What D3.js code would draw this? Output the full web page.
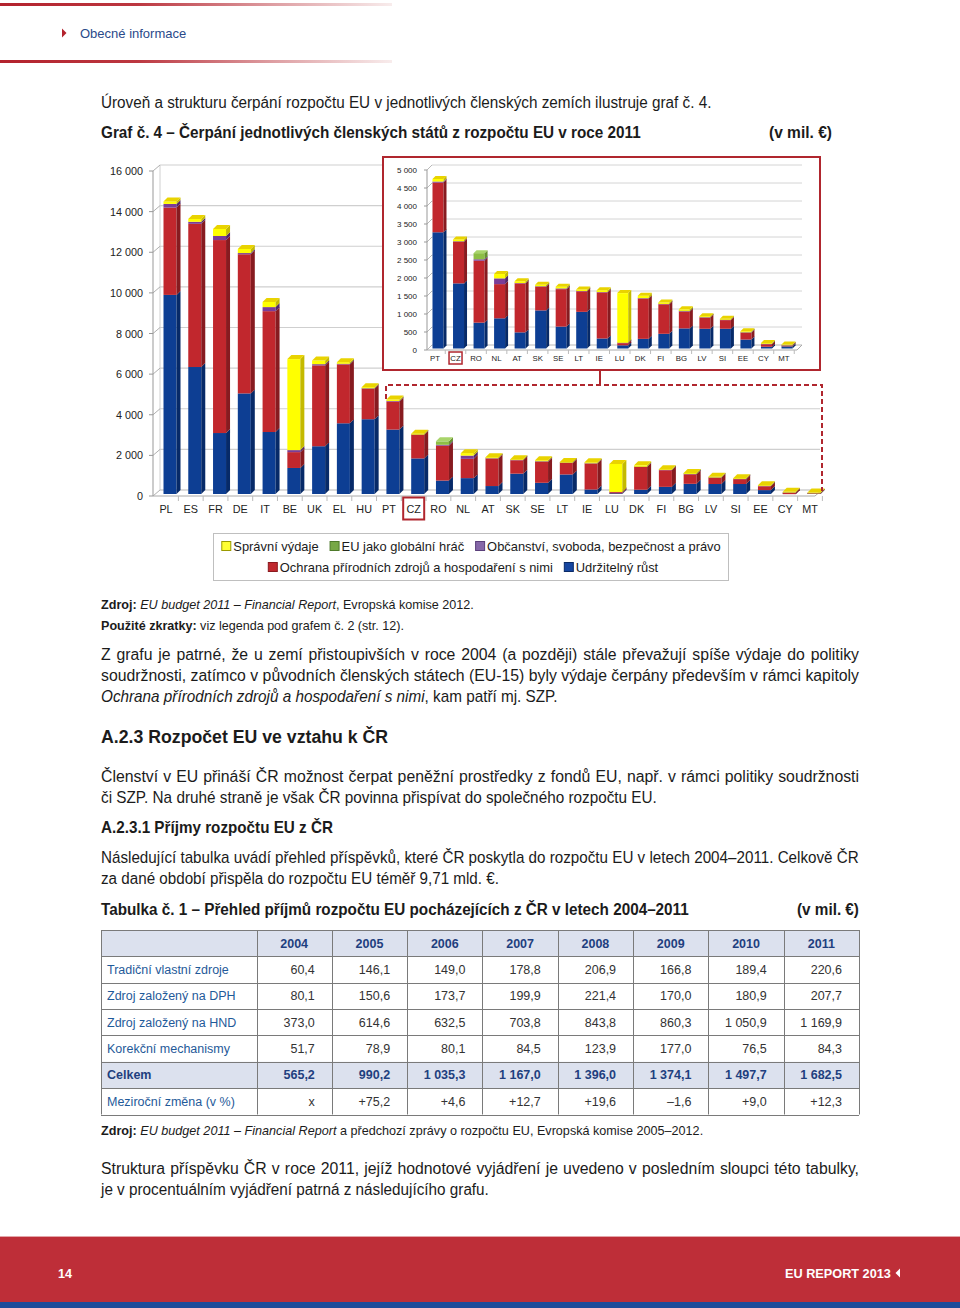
<!DOCTYPE html>
<html><head><meta charset="utf-8">
<script src="https://cdn.jsdelivr.net/npm/d3@7"></script>
<style>
html,body{margin:0;padding:0;background:#fff;}
svg{display:block;}
text{white-space:pre;}
</style></head><body>
<svg id="page" width="960" height="1308"></svg>
<script>
// ---------- DATA ----------
const countries = ["PL","ES","FR","DE","IT","BE","UK","EL","HU","PT","CZ","RO","NL","AT","SK","SE","LT","IE","LU","DK","FI","BG","LV","SI","EE","CY","MT"];
const growth      = [9900,6350,3100,5050,3150,1380,2450,3580,3780,3270,1850, 760, 880, 490,1100, 650,1060, 320, 130, 310, 450, 600, 590, 590, 290, 90,100];
const natural     = [4300,7050,9500,6850,5950, 780,3980,2900,1500,1380,1160,1720, 950,1360, 660,1040, 570,1280,  60,1120, 820, 470, 310, 240, 190, 70, 20];
const citizenship = [ 180, 100, 200,  60, 200, 100,  60,  30,  20,  30,  10,  40, 160,  10,  10,  20,  10,  10,  10,  10,  10,  10,  10,  10,  10, 10, 10];
const globalPlayer= [   0,   0,   0,   0,   0,   0,   0,   0,   0,   0,   0, 170,   0,   0,   0,   0,   0,   0,   0,   0,   0,  10,   0,   0,   0,  0,  0];
const admin       = [ 120, 140, 350, 200, 250,4480, 180,  80,  60,  70,  50,   0, 120,  50,  40,  50,  40,  50,1380,  70,  40,  40,  30,  30,  30, 20, 20];
const insetCountries = countries.slice(countries.indexOf("PT"));
const mainTicks  = [0,2000,4000,6000,8000,10000,12000,14000,16000];
const insetTicks = [0,500,1000,1500,2000,2500,3000,3500,4000,4500,5000];
const legendRow1 = ["Správní výdaje","EU jako globální hráč","Občanství, svoboda, bezpečnost a právo"];
const legendRow2 = ["Ochrana přírodních zdrojů a hospodaření s nimi","Udržitelný růst"];
const tableYears = ["2004","2005","2006","2007","2008","2009","2010","2011"];
const tableLabels = ["Tradiční vlastní zdroje","Zdroj založený na DPH","Zdroj založený na HND","Korekční mechanismy","Celkem","Meziroční změna (v %)"];
const rowTradicni = ["60,4","146,1","149,0","178,8","206,9","166,8","189,4","220,6"];
const rowDPH      = ["80,1","150,6","173,7","199,9","221,4","170,0","180,9","207,7"];
const rowHND      = ["373,0","614,6","632,5","703,8","843,8","860,3","1 050,9","1 169,9"];
const rowKorekce  = ["51,7","78,9","80,1","84,5","123,9","177,0","76,5","84,3"];
const rowCelkem   = ["565,2","990,2","1 035,3","1 167,0","1 396,0","1 374,1","1 497,7","1 682,5"];
const rowZmena    = ["x","+75,2","+4,6","+12,7","+19,6","–1,6","+9,0","+12,3"];

// ---------- SETUP ----------
const BODY = "'Liberation Sans Narrow','Arial Narrow','Liberation Sans',Arial,sans-serif";
const SANS = "'Liberation Sans',Arial,sans-serif";
const svg = d3.select("#page");
const defs = svg.append("defs");
const keys = ["growth","natural","citizenship","globalPlayer","admin"];
const colors = {
  growth:      {front:"#0D3E93", side:"#072A68", top:"#3A66B5", leg:"#1646A0", legS:"#0A2A66"},
  natural:     {front:"#C1272D", side:"#871B20", top:"#D9575C", leg:"#C0282E", legS:"#8A1A1F"},
  citizenship: {front:"#7A3D98", side:"#52286A", top:"#9D66B8", leg:"#8567A8", legS:"#5A3F7A"},
  globalPlayer:{front:"#8DBE45", side:"#67902E", top:"#A8D46A", leg:"#77A846", legS:"#4E7A2A"},
  admin:       {front:"#FFFF00", side:"#C4BA00", top:"#E9D300", leg:"#FFFF33", legS:"#9A9A00"}
};
const legendKey = {"Správní výdaje":"admin","EU jako globální hráč":"globalPlayer","Občanství, svoboda, bezpečnost a právo":"citizenship","Ochrana přírodních zdrojů a hospodaření s nimi":"natural","Udržitelný růst":"growth"};
const data = countries.map((c,i)=>({c, growth:growth[i], natural:natural[i], citizenship:citizenship[i], globalPlayer:globalPlayer[i], admin:admin[i]}));
const fmt = d3.formatLocale({decimal:",",thousands:"\u00a0",grouping:[3],currency:["","€"]}).format(",");

// text helper: parts [{t, b, i}], fits to target width
function line(parts, x, y, size, target, justify, opts={}) {
  const t = svg.append("text").attr("font-family", opts.family||BODY).attr("font-size", size)
    .attr("fill", opts.fill||"#1b1b1b").attr("x",0).attr("y",0);
  parts.forEach(p => t.append("tspan").attr("font-weight", p.b?"bold":null).attr("font-style", p.i?"italic":null).text(p.t));
  const w = t.node().getComputedTextLength();
  const full = parts.map(p=>p.t).join("");
  const n = (full.match(/ /g)||[]).length;
  if (justify && w < target && n>0) {
    t.style("word-spacing", ((target-w)/n)+"px").attr("transform",`translate(${x},${y})`);
  } else {
    t.attr("transform",`translate(${x},${y}) scale(${target/w},1)`);
  }
  return t;
}

// ---------- HEADER ----------
const hg = defs.append("linearGradient").attr("id","hg").attr("x1",0).attr("x2",1).attr("y1",0).attr("y2",0);
hg.append("stop").attr("offset",0).attr("stop-color","#B3222D");
hg.append("stop").attr("offset",0.35).attr("stop-color","#BC3740");
hg.append("stop").attr("offset",0.7).attr("stop-color","#DE9FA3");
hg.append("stop").attr("offset",1).attr("stop-color","#F8ECEC");
svg.append("rect").attr("x",0).attr("y",3).attr("width",392).attr("height",3).attr("fill","url(#hg)");
svg.append("rect").attr("x",0).attr("y",60).attr("width",392).attr("height",3).attr("fill","url(#hg)");
svg.append("path").attr("d","M62,28.5 L66.5,33 L62,37.5 Z").attr("fill","#B3222D");
svg.append("text").attr("x",80).attr("y",37.5).attr("font-family",SANS).attr("font-size",13).attr("fill","#2A4A8A").text("Obecné informace");

// ---------- TEXT ABOVE CHART ----------
line([{t:"Úroveň a strukturu čerpání rozpočtu EU v jednotlivých členských zemích ilustruje graf č. 4."}],101,108,15.8,611,false);
line([{t:"Graf č. 4 – Čerpání jednotlivých členských států z rozpočtu EU v roce 2011",b:true}],101,138,15.8,540,false);
line([{t:"(v mil. €)",b:true}],769,138,15.8,63,false);

// ---------- MAIN CHART ----------
const yMain = d3.scaleLinear().domain([0,16000]).range([496,171]);
const xMain = d3.scalePoint().domain(countries).range([166,810]);
const gm = svg.append("g");
gm.append("line").attr("x1",160).attr("x2",160).attr("y1",yMain(16000)-6).attr("y2",yMain(0)-6).attr("stroke","#D0D0D0");
gm.selectAll("line.grid").data(mainTicks).join("line").attr("class","grid")
  .attr("x1",160).attr("x2",820).attr("y1",d=>yMain(d)-6).attr("y2",d=>yMain(d)-6)
  .attr("stroke",d=>d===0?"#B8B8B8":"#CFCFCF").attr("stroke-width",1.2);
gm.selectAll("line.diag").data(mainTicks).join("line").attr("class","diag")
  .attr("x1",153).attr("x2",160).attr("y1",d=>yMain(d)).attr("y2",d=>yMain(d)-6).attr("stroke","#B0B0B0");
gm.selectAll("line.tick").data(mainTicks).join("line").attr("class","tick")
  .attr("x1",149).attr("x2",153).attr("y1",d=>yMain(d)).attr("y2",d=>yMain(d)).attr("stroke","#999");
gm.append("line").attr("x1",153).attr("x2",153).attr("y1",yMain(16000)).attr("y2",yMain(0)).attr("stroke","#999");
gm.append("line").attr("x1",153).attr("x2",815).attr("y1",yMain(0)).attr("y2",yMain(0)).attr("stroke","#AAA");
gm.append("line").attr("x1",815).attr("x2",822).attr("y1",yMain(0)).attr("y2",yMain(0)-6).attr("stroke","#AAA");
gm.selectAll("text.yl").data(mainTicks).join("text").attr("class","yl")
  .attr("x",143).attr("y",d=>yMain(d)+4).attr("text-anchor","end").attr("font-family",SANS).attr("font-size",10.8).attr("fill","#222").text(d=>fmt(d));
const stepM = xMain.step();
gm.selectAll("line.sep").data(countries).join("line").attr("class","sep")
  .attr("x1",d=>xMain(d)+stepM/2).attr("x2",d=>xMain(d)+stepM/2).attr("y1",yMain(0)).attr("y2",yMain(0)+5).attr("stroke","#BBB");
gm.selectAll("text.xl").data(countries).join("text").attr("class","xl")
  .attr("x",d=>xMain(d)).attr("y",513).attr("text-anchor","middle").attr("font-family",SANS).attr("font-size",10.8).attr("fill","#222").text(d=>d);
gm.append("rect").attr("x",xMain("CZ")-10.5).attr("y",497.5).attr("width",21).attr("height",22).attr("fill","none").attr("stroke","#B0262E").attr("stroke-width",2);

function drawBars(g, cats, x, y, w, off, dx, dy, lift) {
  const sub = data.filter(d=>cats.includes(d.c));
  const st = d3.stack().keys(keys)(sub);
  sub.forEach((d,i)=>{
    const x0 = x(d.c)+off-w/2;
    let topY=null, topK=null;
    keys.forEach((k,ki)=>{
      const s = st[ki][i];
      if (s[1]-s[0] <= 0) return;
      const yb = s[0]===0 ? y(0)-lift : y(s[0]);
      const yt = Math.min(y(s[1]), yb-0.8);
      g.append("rect").attr("x",x0).attr("y",yt).attr("width",w).attr("height",yb-yt).attr("fill",colors[k].front);
      g.append("path").attr("d",`M${x0+w},${yb} L${x0+w+dx},${yb-dy} L${x0+w+dx},${yt-dy} L${x0+w},${yt} Z`).attr("fill",colors[k].side);
      topY=yt; topK=k;
    });
    if (topK) g.append("path").attr("d",`M${x0},${topY} L${x0+dx},${topY-dy} L${x0+w+dx},${topY-dy} L${x0+w},${topY} Z`).attr("fill",colors[topK].top);
  });
}
drawBars(gm.append("g"), countries, xMain, yMain, 13, 4, 4, 4, 2);

svg.append("path").attr("d","M386,399 V385 H822 V491").attr("fill","none").attr("stroke","#B0262E").attr("stroke-width",2).attr("stroke-dasharray","5,3");
svg.append("line").attr("x1",600).attr("x2",600).attr("y1",370).attr("y2",385).attr("stroke","#B0262E").attr("stroke-width",2);

// ---------- INSET ----------
const gi = svg.append("g");
gi.append("rect").attr("x",383).attr("y",157).attr("width",437).attr("height",213).attr("fill","#fff").attr("stroke","#B0262E").attr("stroke-width",2);
const yIn = d3.scaleLinear().domain([0,5000]).range([350,170]);
const xIn = d3.scalePoint().domain(insetCountries).range([435,784]);
gi.selectAll("line.grid").data(insetTicks).join("line")
  .attr("x1",432).attr("x2",802).attr("y1",d=>yIn(d)-5).attr("y2",d=>yIn(d)-5).attr("stroke",d=>d===0?"#B8B8B8":"#D4D4D4");
gi.selectAll("line.diag").data(insetTicks).join("line")
  .attr("x1",427).attr("x2",432).attr("y1",d=>yIn(d)).attr("y2",d=>yIn(d)-5).attr("stroke","#B8B8B8");
gi.selectAll("line.tick").data(insetTicks).join("line")
  .attr("x1",424).attr("x2",427).attr("y1",d=>yIn(d)).attr("y2",d=>yIn(d)).attr("stroke","#999");
gi.append("line").attr("x1",427).attr("x2",427).attr("y1",yIn(5000)).attr("y2",yIn(0)).attr("stroke","#999");
gi.append("line").attr("x1",427).attr("x2",797).attr("y1",yIn(0)).attr("y2",yIn(0)).attr("stroke","#AAA");
gi.append("line").attr("x1",797).attr("x2",802).attr("y1",yIn(0)).attr("y2",yIn(0)-5).attr("stroke","#AAA");
gi.selectAll("text.yl").data(insetTicks).join("text")
  .attr("x",417).attr("y",d=>yIn(d)+3).attr("text-anchor","end").attr("font-family",SANS).attr("font-size",8).attr("fill","#222").text(d=>fmt(d));
const stepI = xIn.step();
gi.selectAll("line.sep").data(insetCountries).join("line")
  .attr("x1",d=>xIn(d)+stepI/2).attr("x2",d=>xIn(d)+stepI/2).attr("y1",yIn(0)).attr("y2",yIn(0)+4).attr("stroke","#BBB");
gi.selectAll("text.xl").data(insetCountries).join("text")
  .attr("x",d=>xIn(d)).attr("y",361).attr("text-anchor","middle").attr("font-family",SANS).attr("font-size",7.8).attr("fill","#222").text(d=>d);
gi.append("rect").attr("x",xIn("CZ")-6.5).attr("y",352).attr("width",13).attr("height",12).attr("fill","none").attr("stroke","#B0262E").attr("stroke-width",1.5);
drawBars(gi.append("g"), insetCountries, xIn, yIn, 11, 3, 3, 3, 1.5);

// ---------- LEGEND ----------
const lg = svg.append("g");
lg.append("rect").attr("x",213.5).attr("y",533.5).attr("width",515).attr("height",47).attr("fill","#fff").attr("stroke","#BFBFBF");
function legendRow(items, cx, cy) {
  const g = lg.append("g");
  let x = 0;
  items.forEach((name,i)=>{
    const k = legendKey[name];
    g.append("rect").attr("x",x+0.5).attr("y",cy-4.5).attr("width",9).attr("height",9).attr("fill",colors[k].leg).attr("stroke",colors[k].legS);
    const t = g.append("text").attr("x",x+12).attr("y",cy+4.5).attr("font-family",SANS).attr("font-size",12.9).attr("fill","#1b1b1b").text(name);
    x += 12 + t.node().getComputedTextLength() + 11;
  });
  const total = x - 11;
  g.attr("transform",`translate(${cx-total/2},0)`);
}
legendRow(legendRow1, 471, 546);
legendRow(legendRow2, 463, 567);

// ---------- TEXT BELOW CHART ----------
line([{t:"Zdroj:",b:true},{t:" "},{t:"EU budget 2011 – Financial Report",i:true},{t:", Evropská komise 2012."}],101,608.5,13.2,373,false);
line([{t:"Použité zkratky:",b:true},{t:" viz legenda pod grafem č. 2 (str. 12)."}],101,629.5,13.2,303,false);
line([{t:"Z grafu je patrné, že u zemí přistoupivších v roce 2004 (a později) stále převažují spíše výdaje do politiky"}],101,659.5,15.8,758,true);
line([{t:"soudržnosti, zatímco v původních členských státech (EU-15) byly výdaje čerpány především v rámci kapitoly"}],101,680.5,15.8,758,true);
line([{t:"Ochrana přírodních zdrojů a hospodaření s nimi",i:true},{t:", kam patří mj. SZP."}],101,701.5,15.8,457,false);
line([{t:"A.2.3 Rozpočet EU ve vztahu k ČR",b:true}],101,742.5,18.8,287,false);
line([{t:"Členství v EU přináší ČR možnost čerpat peněžní prostředky z fondů EU, např. v rámci politiky soudržnosti"}],101,781.5,15.8,758,true);
line([{t:"či SZP. Na druhé straně je však ČR povinna přispívat do společného rozpočtu EU."}],101,802.5,15.8,556,false);
line([{t:"A.2.3.1 Příjmy rozpočtu EU z ČR",b:true}],101,832.5,15.8,232,false);
line([{t:"Následující tabulka uvádí přehled příspěvků, které ČR poskytla do rozpočtu EU v letech 2004–2011. Celkově ČR"}],101,862.5,15.8,758,true);
line([{t:"za dané období přispěla do rozpočtu EU téměř 9,71 mld. €."}],101,883.5,15.8,398,false);
line([{t:"Tabulka č. 1 – Přehled příjmů rozpočtu EU pocházejících z ČR v letech 2004–2011",b:true}],101,914.5,15.8,588,false);
line([{t:"(v mil. €)",b:true}],797,914.5,15.8,62,false);

// ---------- TABLE ----------
const tg = svg.append("g");
const colX = d3.scaleBand().domain(tableYears).range([256.5,859]);
const rowsData = [rowTradicni,rowDPH,rowHND,rowKorekce,rowCelkem,rowZmena];
const rowY = d3.scaleBand().domain(d3.range(7)).range([930,1114.5]);
tg.append("rect").attr("x",101).attr("y",rowY(0)).attr("width",758).attr("height",rowY.bandwidth()).attr("fill","#DCE1EE");
tg.append("rect").attr("x",101).attr("y",rowY(5)).attr("width",758).attr("height",rowY.bandwidth()).attr("fill","#DCE1EE");
d3.range(8).forEach(r=>{
  const y = (r<7?rowY(r):rowY(6)+rowY.bandwidth());
  tg.append("line").attr("x1",101).attr("x2",859).attr("y1",Math.round(y)+0.5).attr("y2",Math.round(y)+0.5).attr("stroke","#7A7A7A");
});
[101,...tableYears.map(y=>colX(y)),859].forEach(x=>{
  tg.append("line").attr("x1",Math.round(x)+0.5).attr("x2",Math.round(x)+0.5).attr("y1",930).attr("y2",1114.5).attr("stroke","#7A7A7A");
});
tableYears.forEach(yr=>{
  tg.append("text").attr("x",colX(yr)+colX.bandwidth()/2).attr("y",rowY(0)+rowY.bandwidth()/2+4.5).attr("text-anchor","middle")
    .attr("font-family",SANS).attr("font-size",12.5).attr("font-weight","bold").attr("fill","#1F3F7F").text(yr);
});
tableLabels.forEach((lab,r)=>{
  const bold = lab==="Celkem";
  const cy = rowY(r+1)+rowY.bandwidth()/2+4.5;
  tg.append("text").attr("x",107).attr("y",cy).attr("font-family",SANS).attr("font-size",12.5)
    .attr("font-weight",bold?"bold":null).attr("fill",bold?"#1F3F7F":"#1F5A99").text(lab);
  rowsData[r].forEach((v,c)=>{
    tg.append("text").attr("x",colX(tableYears[c])+colX.bandwidth()-17).attr("y",cy).attr("text-anchor","end")
      .attr("font-family",SANS).attr("font-size",12.5).attr("font-weight",bold?"bold":null).attr("fill",bold?"#1F3F7F":"#333").text(v);
  });
});

line([{t:"Zdroj:",b:true},{t:" "},{t:"EU budget 2011 – Financial Report",i:true},{t:" a předchozí zprávy o rozpočtu EU, Evropská komise 2005–2012."}],101,1134.5,13.2,602,false);
line([{t:"Struktura příspěvku ČR v roce 2011, jejíž hodnotové vyjádření je uvedeno v posledním sloupci této tabulky,"}],101,1173.5,15.8,758,true);
line([{t:"je v procentuálním vyjádření patrná z následujícího grafu."}],101,1194.5,15.8,388,false);

// ---------- FOOTER ----------
svg.append("rect").attr("x",0).attr("y",1236).attr("width",960).attr("height",1).attr("fill","#E3A6A9");
svg.append("rect").attr("x",0).attr("y",1237).attr("width",960).attr("height",65).attr("fill","#BE2E38");
svg.append("rect").attr("x",0).attr("y",1302).attr("width",960).attr("height",6).attr("fill","#1E4B9A");
line([{t:"14",b:true}],58,1278,13,14,false,{fill:"#fff"});
line([{t:"EU REPORT 2013",b:true}],785,1278,13,106,false,{fill:"#fff"});
svg.append("path").attr("d","M900,1268.5 L895.5,1273 L900,1277.5 Z").attr("fill","#fff");
</script>
</body></html>
